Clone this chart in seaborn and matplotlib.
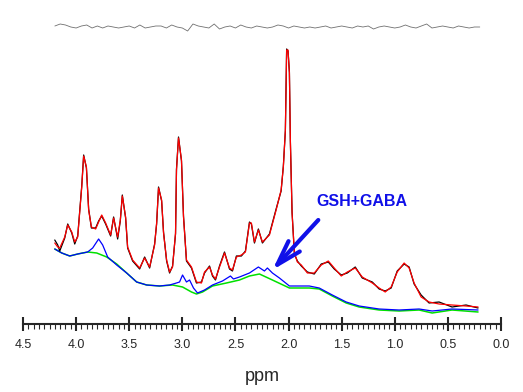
import numpy as np
import pandas as pd
import seaborn as sns
import matplotlib
matplotlib.use("Agg")
import matplotlib.pyplot as plt
from matplotlib.ticker import MultipleLocator, FormatStrFormatter

# chemical shift (ppm) for data / fit
ppm = [4.201, 4.173, 4.154, 4.107, 4.079, 4.041, 4.013, 3.985, 3.947, 3.929,
       3.903, 3.882, 3.856, 3.816, 3.788, 3.759, 3.722, 3.675, 3.647, 3.609,
       3.584, 3.565, 3.534, 3.515, 3.468, 3.402, 3.355, 3.308, 3.261, 3.242,
       3.224, 3.195, 3.177, 3.148, 3.120, 3.092, 3.064, 3.055, 3.036, 3.008,
       2.989, 2.961, 2.914, 2.867, 2.820, 2.791, 2.744, 2.716, 2.688, 2.650,
       2.603, 2.556, 2.528, 2.491, 2.444, 2.406, 2.368, 2.350, 2.321, 2.284,
       2.246, 2.180, 2.117, 2.070, 2.049, 2.030, 2.018, 2.005, 1.992, 1.983,
       1.967, 1.945, 1.917, 1.880, 1.823, 1.758, 1.692, 1.626, 1.570, 1.504,
       1.447, 1.372, 1.306, 1.212, 1.147, 1.090, 1.034, 0.977, 0.912, 0.865,
       0.818, 0.752, 0.677, 0.583, 0.461, 0.329, 0.216]

fit = [81, 77, 76, 87, 99, 92, 82, 87, 137, 168,
       157, 114, 97, 95, 102, 109, 101, 89, 106, 87,
       104, 128, 107, 77, 64, 56, 66, 57, 79, 101,
       136, 124, 91, 64, 52, 57, 91, 154, 186, 164,
       107, 64, 57, 42, 41, 52, 57, 49, 45, 57,
       71, 56, 54, 67, 69, 72, 101, 101, 82, 94,
       82, 89, 114, 134, 157, 194, 274, 274, 251, 184,
       111, 71, 62, 59, 51, 51, 59, 63, 56, 48,
       52, 56, 47, 41, 36, 32, 37, 52, 61, 56,
       41, 27, 22, 20, 19, 18, 17]

data = [84, 79, 73, 86, 100, 91, 80, 88, 138, 169,
        156, 115, 96, 96, 103, 108, 100, 88, 107, 85,
        103, 129, 106, 76, 63, 55, 67, 56, 80, 100,
        137, 123, 92, 63, 51, 58, 90, 155, 187, 163,
        108, 63, 56, 41, 42, 51, 58, 48, 44, 58,
        72, 55, 53, 68, 68, 73, 102, 100, 81, 95,
        81, 90, 115, 133, 158, 193, 275, 273, 252, 183,
        112, 70, 63, 58, 52, 50, 60, 62, 55, 49,
        51, 57, 46, 42, 35, 33, 36, 53, 60, 57,
        40, 29, 21, 22, 17, 19, 16]

ppm_base = [4.201, 4.135, 4.060, 3.985, 3.891, 3.844, 3.788, 3.750, 3.703, 3.618,
            3.524, 3.430, 3.336, 3.214, 3.120, 3.055, 3.026, 2.998, 2.961, 2.932,
            2.895, 2.857, 2.791, 2.716, 2.622, 2.547, 2.519, 2.462, 2.368, 2.284,
            2.227, 2.199, 2.152, 2.086, 1.992, 1.917, 1.805, 1.711, 1.588, 1.457,
            1.335, 1.147, 0.959, 0.771, 0.648, 0.461, 0.216]
gsh_base = [75, 71, 68, 70, 72, 76, 85, 79, 67, 59,
            51, 42, 39, 38, 39, 41, 42, 49, 42, 44,
            36, 31, 34, 39, 43, 48, 45, 47, 51, 57,
            53, 56, 51, 46, 38, 38, 38, 36, 29, 22,
            18, 15, 14, 15, 13, 15, 14]

ppm_green = [4.201, 4.135, 4.060, 3.985, 3.891, 3.806, 3.712, 3.618, 3.524, 3.430,
             3.336, 3.214, 3.092, 2.998, 2.914, 2.867, 2.810, 2.716, 2.585, 2.462,
             2.368, 2.274, 2.152, 1.992, 1.805, 1.711, 1.588, 1.457, 1.335, 1.147,
             0.959, 0.771, 0.648, 0.461, 0.216]
baseline = [75, 71, 68, 70, 72, 71, 67, 60, 51, 42,
            39, 38, 39, 37, 32, 30, 32, 38, 41, 44,
            48, 50, 44, 36, 36, 35, 28, 21, 17, 14,
            13, 14, 11, 14, 12]

ppm_res = [4.20, 4.15, 4.10, 4.05, 4.00, 3.95, 3.90, 3.85, 3.80, 3.75,
           3.70, 3.65, 3.60, 3.55, 3.50, 3.45, 3.40, 3.35, 3.30, 3.25,
           3.20, 3.15, 3.10, 3.05, 3.00, 2.95, 2.90, 2.85, 2.80, 2.75,
           2.70, 2.65, 2.60, 2.55, 2.50, 2.45, 2.40, 2.35, 2.30, 2.25,
           2.20, 2.15, 2.10, 2.05, 2.00, 1.95, 1.90, 1.85, 1.80, 1.75,
           1.70, 1.65, 1.60, 1.55, 1.50, 1.45, 1.40, 1.35, 1.30, 1.25,
           1.20, 1.15, 1.10, 1.05, 1.00, 0.95, 0.90, 0.85, 0.80, 0.75,
           0.70, 0.65, 0.60, 0.55, 0.50, 0.45, 0.40, 0.35, 0.30, 0.25, 0.20]
residual = [1, 3, 2, 0, -1, 1, 2, -1, 1, -1,
            1, 0, -1, 0, 1, -1, 2, -1, 0, 1,
            1, -1, 2, 0, -1, -4, 3, 1, 0, -1,
            3, -2, 0, 1, -1, 2, 0, -1, 1, 0,
            -1, 0, 2, 1, -1, 1, 0, -1, 0, -1,
            0, 1, -1, 0, 1, 0, -1, 1, 0, 1,
            -2, 0, 1, 0, -1, 0, 2, 0, -1, 1,
            3, -1, 0, 1, 0, -1, 1, 0, -1, 0, 0]
res_offset = 297

blue = "#1010e8"

sns.set_style("white")
plt.rcParams['font.family'] = ['Liberation Sans', 'DejaVu Sans']

fig = plt.figure(figsize=(5.23, 3.92), dpi=100)
ax = fig.add_axes([23/523, 68/392, 478/523, 324/392])

sns.lineplot(x=ppm_green, y=baseline, color="#00e000", lw=1.1, ax=ax, sort=False, estimator=None)
sns.lineplot(x=ppm_base, y=gsh_base, color="#0000ff", lw=0.9, ax=ax, sort=False, estimator=None)
sns.lineplot(x=ppm, y=data, color="black", lw=0.9, ax=ax, sort=False, estimator=None)
sns.lineplot(x=ppm, y=fit, color="red", lw=0.9, ax=ax, sort=False, estimator=None)
sns.lineplot(x=ppm_res, y=np.array(residual) + res_offset, color="#707070", lw=0.6,
             ax=ax, sort=False, estimator=None)

ax.annotate('', xy=(2.152, 54), xytext=(1.720, 104),
            arrowprops=dict(arrowstyle='->, head_length=1.8, head_width=0.55',
                            lw=3, color=blue, shrinkA=0, shrinkB=0))
ax.text(1.741, 123, 'GSH+GABA', color=blue, fontsize=11.5, fontweight='bold',
        ha='left', va='center')

ax.set_xlim(4.5, 0.0)
ax.set_ylim(0, 324)
ax.set_yticks([])
for s in ['left', 'right', 'top']:
    ax.spines[s].set_visible(False)
ax.spines['bottom'].set_linewidth(1.5)
ax.xaxis.set_major_locator(MultipleLocator(0.5))
ax.xaxis.set_minor_locator(MultipleLocator(0.05))
ax.xaxis.set_major_formatter(FormatStrFormatter('%.1f'))
ax.tick_params(axis='x', which='major', direction='inout', length=10, width=1.5,
               labelsize=9, pad=6, bottom=True)
ax.tick_params(axis='x', which='minor', direction='out', length=3.5, width=0.8, bottom=True)
ax.set_xlabel('ppm', fontsize=13, labelpad=12)

plt.savefig('out.png', dpi=100)
